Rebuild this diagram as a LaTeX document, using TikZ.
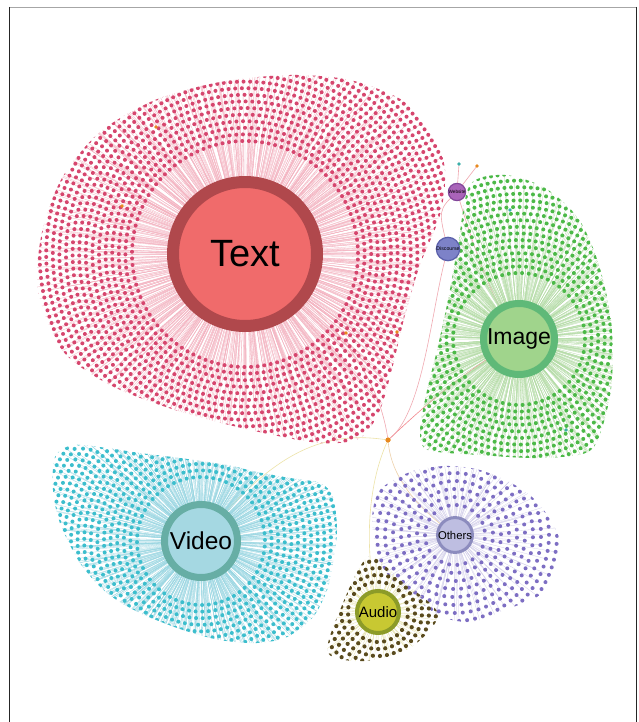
\documentclass[tikz,border=0pt]{standalone}
\usepackage{fontspec}
\setmainfont{Liberation Sans}
\definecolor{cTdot}{HTML}{D6466E}
\definecolor{cTline}{HTML}{F4B2C0}
\definecolor{cTfill}{HTML}{F06B6B}
\definecolor{cTring}{HTML}{B0484C}
\definecolor{cIdot}{HTML}{4CB948}
\definecolor{cIline}{HTML}{B4DCA6}
\definecolor{cIfill}{HTML}{A0D48C}
\definecolor{cIring}{HTML}{5FB978}
\definecolor{cVdot}{HTML}{3CBECD}
\definecolor{cVline}{HTML}{98D6E2}
\definecolor{cVfill}{HTML}{A5D8E2}
\definecolor{cVring}{HTML}{67AEA5}
\definecolor{cOdot}{HTML}{7D6EC3}
\definecolor{cOline}{HTML}{D2CEEA}
\definecolor{cOfill}{HTML}{BEBEE1}
\definecolor{cOring}{HTML}{8C8CBE}
\definecolor{cAdot}{HTML}{5A4B1E}
\definecolor{cAline}{HTML}{E6E2AA}
\definecolor{cAfill}{HTML}{C8C832}
\definecolor{cAring}{HTML}{8C9B28}
\definecolor{cWfill}{HTML}{AA64B9}
\definecolor{cWring}{HTML}{82469A}
\definecolor{cDfill}{HTML}{7D82C8}
\definecolor{cDring}{HTML}{5A5FAA}
\definecolor{cOrange}{HTML}{E8891E}
\definecolor{cTeal}{HTML}{3AAFA9}
\definecolor{cPinkEdge}{HTML}{F0A8B0}
\definecolor{cYelEdge}{HTML}{EDE3A8}
\tikzset{
  hub/.style={circle, inner sep=0pt, text=black},
  Tline/.style={draw=cTline, line width=0.28pt},
  Tdot/.style={fill=cTdot},
  Iline/.style={draw=cIline, line width=0.28pt},
  Idot/.style={fill=cIdot},
  Vline/.style={draw=cVline, line width=0.28pt},
  Vdot/.style={fill=cVdot},
  Oline/.style={draw=cOline, line width=0.28pt},
  Odot/.style={fill=cOdot},
  Aline/.style={draw=cAline, line width=0.28pt},
  Adot/.style={fill=cAdot},
  edgeline/.style={line width=0.6pt},
  extra/.style={circle, inner sep=0pt, minimum size=3.8pt},
}
% #1 centre, #2 inner radius, #3 outer radius, #4 spacing, #5 style prefix, #6 dot radius, #7 outline
\newcommand\netcluster[7]{%
  \begin{scope}
    \clip plot[smooth cycle] coordinates {#7};
    \begin{scope}[shift={(#1)}]
      \pgfmathsetmacro\rsec{#2+#4}
      \foreach \r [count=\i] in {#2,\rsec,...,#3} {
        \pgfmathtruncatemacro\nn{2*pi*\r/#4}
        \pgfmathsetmacro\stp{360/\nn}
        \pgfmathsetmacro\off{mod(\i*23,360)}
        \ifnum\i<3 \edef\klist{1,2,...,\nn}\else\edef\klist{1,4,...,\nn}\fi
        \draw[#5line] \foreach \k in \klist {(0,0) -- ({\off+\k*\stp}:\r)};
      }
      \foreach \r [count=\i] in {#2,\rsec,...,#3} {
        \pgfmathtruncatemacro\nn{2*pi*\r/#4}
        \pgfmathsetmacro\stp{360/\nn}
        \pgfmathsetmacro\off{mod(\i*23,360)}
        \fill[#5dot] \foreach \k in {1,...,\nn} {({\off+\k*\stp}:\r) circle (#6)};
      }
    \end{scope}
  \end{scope}}
\begin{document}
\begin{tikzpicture}[x=1pt,y=-1pt]
\useasboundingbox (0,0) rectangle (638,722);
\fill[white] (0,0) rectangle (638,722);
% frame
\draw[gray!70, line width=1pt] (9,7.5) -- (636,7.5);
\draw[black!85, line width=1pt] (9,7) -- (9,722);
\draw[black!85, line width=1pt] (636,7) -- (636,722);

% centre node and positions
\node[circle, fill=cOrange, inner sep=0pt, minimum size=5pt] (C) at (388,440) {};
\coordinate (tealA) at (459,164);
\coordinate (orA) at (477,166);
\path (245,254) coordinate (Tc) (519,339) coordinate (Ic) (201,541) coordinate (Vc)
      (455,535) coordinate (Oc) (378,612) coordinate (Ac) (457,192) coordinate (Wc) (448,249) coordinate (Dc);

% inter-hub connectors (behind everything)
\draw[edgeline, cPinkEdge] (C) .. controls (382,400) and (360,330) .. (Tc);
\draw[edgeline, cPinkEdge!80!red] (C) .. controls (410,420) and (450,380) .. (Ic);
\draw[edgeline, cYelEdge] (C) .. controls (320,430) and (270,455) .. (Vc);
\draw[edgeline, cYelEdge] (C) .. controls (370,480) and (362,540) .. (Ac);
\draw[edgeline, cYelEdge!70!cPinkEdge] (C) .. controls (392,480) and (420,510) .. (Oc);
\draw[edgeline, cPinkEdge] (C) .. controls (425,410) and (432,300) .. (Dc);
\draw[edgeline, cPinkEdge] (Wc) .. controls (438,210) .. (Dc);
\draw[edgeline, cPinkEdge] (Wc) .. controls (470,235) and (490,300) .. (Ic);
\draw[edgeline, cPinkEdge] (Wc) -- (tealA);
\draw[edgeline, cPinkEdge] (Wc) -- (orA);

% clusters
\netcluster{245,254}{113}{222}{6.6}{T}{2}{(38,290) (42,232) (62,178) (100,132) (155,100) (220,82) (290,75) (350,80) (402,100) (432,130) (445,170) (440,215) (420,265) (405,315) (393,365) (380,410) (360,438) (320,443) (250,430) (175,410) (110,385) (62,350)}
\netcluster{519,339}{66}{168}{6.6}{I}{2}{(470,185) (505,175) (545,188) (578,218) (598,262) (611,320) (612,380) (603,425) (588,452) (540,458) (480,455) (428,450) (420,432) (426,395) (437,350) (448,300) (458,245)}
\netcluster{201,541}{64}{172}{6.6}{V}{2}{(55,457) (73,445) (107,448) (140,453) (180,458) (227,465) (257,472) (290,478) (320,483) (333,497) (337,530) (333,563) (327,590) (313,617) (287,637) (257,643) (220,640) (183,630) (140,613) (107,593) (80,563) (60,523) (53,490)}
\netcluster{455,535}{30}{108}{8}{O}{2}{(380,490) (410,472) (445,466) (480,470) (515,485) (540,505) (560,540) (558,570) (540,595) (505,610) (472,622) (442,617) (420,602) (396,584) (379,560) (372,520)}
\netcluster{378,612}{30}{68}{7}{A}{2.1}{(368,557) (400,580) (438,614) (410,648) (365,661) (328,653) (340,610)}

% scattered other-coloured nodes
\node[extra, fill=cOrange] (o1) at (156,127) {};
\node[extra, fill=cOrange] (o2) at (122,206) {};
\node[extra, fill=cOrange] (o3) at (346,333) {};
\node[extra, fill=cOrange] (o4) at (397,332) {};
\node[extra, fill=cTeal] (t1) at (510,210) {};
\node[extra, fill=cTeal] (t2) at (566,430) {};
\fill[cTeal] (tealA) circle (1.8);
\fill[cOrange] (orA) circle (1.8);

% hubs
\node[hub, minimum size=144pt, fill=cTfill, draw=cTring, line width=12pt, font=\fontsize{38}{40}\selectfont] (Text) at (Tc) {Text};
\node[hub, minimum size=71pt, fill=cIfill, draw=cIring, line width=7pt, font=\fontsize{23}{25}\selectfont] (Image) at (Ic) {Image};
\node[hub, minimum size=73pt, fill=cVfill, draw=cVring, line width=7pt, font=\fontsize{24.5}{26}\selectfont] (Video) at (Vc) {Video};
\node[hub, minimum size=33pt, fill=cOfill, draw=cOring, line width=3pt, font=\fontsize{11.3}{12}\selectfont] (Others) at (Oc) {Others};
\node[hub, minimum size=42pt, fill=cAfill, draw=cAring, line width=4pt, font=\fontsize{15}{16}\selectfont] (Audio) at (Ac) {Audio};
\node[hub, minimum size=17pt, fill=cWfill, draw=cWring, line width=1.2pt, font=\fontsize{4.7}{5}\selectfont] (Website) at (Wc) {Website};
\node[hub, minimum size=21.5pt, fill=cDfill, draw=cDring, line width=1.2pt, font=\fontsize{5.2}{6}\selectfont] (Discourse) at (Dc) {Discourse};
\node[circle, fill=cOrange, inner sep=0pt, minimum size=5pt] at (C) {};
\end{tikzpicture}
\end{document}
